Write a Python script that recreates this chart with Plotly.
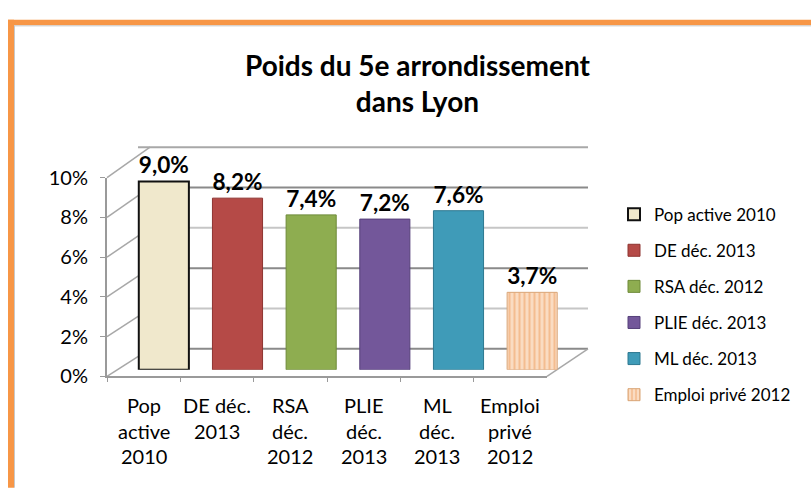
import plotly.graph_objects as go

# ---- data ----
categories = ["Pop active 2010", "DE déc. 2013", "RSA déc. 2012",
              "PLIE déc. 2013", "ML déc. 2013", "Emploi privé 2012"]
tick_lines = [["Pop", "active", "2010"], ["DE déc.", "2013"], ["RSA", "déc.", "2012"],
              ["PLIE", "déc.", "2013"], ["ML", "déc.", "2013"], ["Emploi", "privé", "2012"]]
values = [9.0, 8.2, 7.4, 7.2, 7.6, 3.7]
y_ticks = [0, 2, 4, 6, 8, 10]
y_tick_labels = ["0%", "2%", "4%", "6%", "8%", "10%"]
title_text = "Poids du 5e arrondissement<br>dans Lyon"

# ---- styles ----
colors = ["#F0E8CC", "#B54A47", "#8EAD50", "#73579A", "#3F9BB8", "#F8D8BA"]
line_colors = ["#111111", "#8E3431", "#6E8A38", "#56407A", "#2D7890", "#D9A577"]
line_widths = [2, 1, 1, 1, 1, 1]
FONT = "Lato"
W, H = 811, 494


def fx(px):
    return px / W


def fy(py):
    return 1 - py / H


def front_y(v):  # front axis: 0% at 382px, 10% at 173px
    return fy(382) + v / 10 * (fy(173) - fy(382))


def back_y(v):  # back wall: 0% at 353px, 10% at 141px
    return fy(353) + v / 10 * (fy(141) - fy(353))


fig = go.Figure()

for i, (cat, val) in enumerate(zip(categories, values)):
    marker = dict(color=colors[i], line=dict(color=line_colors[i], width=line_widths[i]))
    if i == 5:
        marker["pattern"] = dict(shape="|", fgcolor="#EE9D5E", bgcolor="#FADCC2",
                                 size=5, solidity=0.4)
    fig.add_trace(go.Bar(
        x=[cat], y=[val], name=cat, xaxis="x3", yaxis="y3",
        width=0.68, marker=marker,
        text=[f"{val:.1f}".replace(".", ",") + "%"],
        textposition="outside", cliponaxis=False,
        textfont=dict(family=FONT, size=23, color="#000000", weight="bold"),
        legendgroup=f"g{i}",
    ))

# invisible trace to create the front axes
fig.add_trace(go.Scatter(x=categories, y=[None] * 6, xaxis="x", yaxis="y",
                         showlegend=False, hoverinfo="skip"))

shapes = []
grid_cols = {0: "#8a8a8a", 2: "#c6c6c6", 4: "#8a8a8a", 6: "#c6c6c6", 8: "#8a8a8a", 10: "#a8a8a8"}
for v in y_ticks:
    shapes.append(dict(type="line", xref="paper", yref="paper", layer="below",
                       x0=fx(138), x1=fx(588), y0=back_y(v), y1=back_y(v),
                       line=dict(color=grid_cols[v], width=2)))
    shapes.append(dict(type="line", xref="paper", yref="paper", layer="below",
                       x0=fx(107), x1=fx(150), y0=front_y(v), y1=back_y(v),
                       line=dict(color="#a8a8a8", width=1.5)))
shapes.append(dict(type="line", xref="paper", yref="paper", layer="below",
                   x0=fx(547), x1=fx(588), y0=front_y(0), y1=back_y(0),
                   line=dict(color="#a8a8a8", width=1.5)))
# orange frame
shapes.append(dict(type="rect", xref="paper", yref="paper", layer="below",
                   x0=fx(8), x1=1.01, y0=fy(13), y1=fy(7), fillcolor="#F79646", line_width=0))
shapes.append(dict(type="rect", xref="paper", yref="paper", layer="below",
                   x0=fx(8), x1=fx(14), y0=-0.01, y1=fy(7), fillcolor="#F79646", line_width=0))
shapes.append(dict(type="line", xref="paper", yref="paper", layer="below",
                   x0=fx(14), x1=1.01, y0=fy(13.5), y1=fy(13.5), line=dict(color="#c8c8c8", width=1)))
shapes.append(dict(type="line", xref="paper", yref="paper", layer="below",
                   x0=fx(14.5), x1=fx(14.5), y0=-0.01, y1=fy(13), line=dict(color="#c8c8c8", width=1)))

annotations = [dict(text=title_text, xref="paper", yref="paper", x=fx(417), y=fy(74),
                    xanchor="center", yanchor="middle", showarrow=False,
                    font=dict(family=FONT, size=28, color="#000000", weight="bold"))]
for cat, lines in zip(categories, tick_lines):
    for j, t in enumerate(lines):
        annotations.append(dict(text=t, xref="x", yref="paper", x=cat, y=fy(412 + 27 * j),
                                xanchor="center", yanchor="middle", showarrow=False,
                                font=dict(family=FONT, size=20, color="#000000")))

fig.update_layout(
    width=W, height=H,
    margin=dict(l=0, r=0, t=0, b=0),
    paper_bgcolor="#ffffff", plot_bgcolor="rgba(0,0,0,0)",
    barmode="overlay",
    showlegend=True,
    legend=dict(x=fx(614), y=fy(193), xanchor="left", yanchor="top",
                font=dict(family=FONT, size=17, color="#000000"),
                tracegroupgap=11, bgcolor="rgba(0,0,0,0)", itemwidth=30),
    xaxis=dict(domain=[fx(107), fx(547)], type="category", categoryorder="array",
               categoryarray=categories, range=[-0.5, 5.5], showticklabels=False,
               ticks="outside", tickson="boundaries", ticklen=4, tickcolor="#9a9a9a",
               showline=True, linecolor="#9a9a9a", linewidth=2, showgrid=False,
               zeroline=False, anchor="y", fixedrange=True),
    yaxis=dict(domain=[front_y(0), front_y(10)], type="linear", range=[0, 10],
               tickmode="array", tickvals=y_ticks, ticktext=y_tick_labels,
               showgrid=False, zeroline=False, showline=True,
               linecolor="#9a9a9a", linewidth=2, ticks="outside", ticklen=5,
               tickcolor="#9a9a9a", ticklabelstandoff=8,
               tickfont=dict(family=FONT, size=20, color="#000000"), anchor="x"),
    xaxis3=dict(domain=[fx(127), fx(569)], type="category", categoryorder="array",
                categoryarray=categories, range=[-0.5, 5.5], visible=False, anchor="y3"),
    yaxis3=dict(domain=[fy(375), fy(155)], range=[0, 10], visible=False, anchor="x3"),
    shapes=shapes,
    annotations=annotations,
)

fig.write_html("out.html")
